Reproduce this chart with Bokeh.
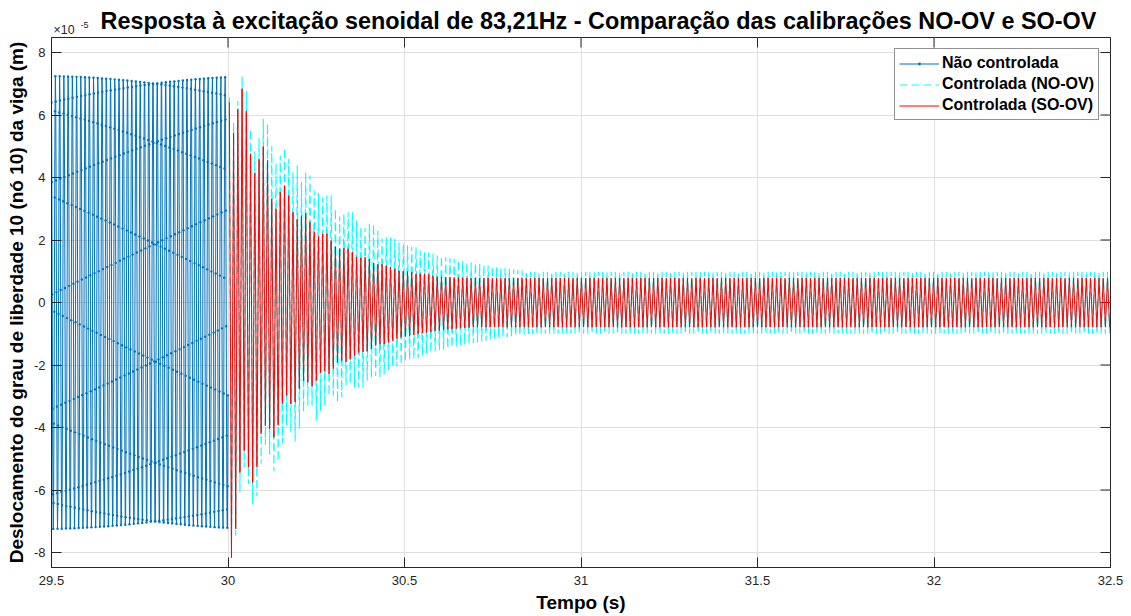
import numpy as np
from bokeh.plotting import figure
from bokeh.models import Range1d, FixedTicker, Label, Legend, LegendItem
from bokeh.embed import file_html
from bokeh.resources import INLINE

# ---------------------------------------------------------------------------
# Data (displacements in units of 1e-5 m)
# ---------------------------------------------------------------------------
freq_hz = 83.21            # excitation frequency
fs_hz = 1000.0             # sampling rate of the simulation output
t_start, t_end = 29.5, 32.5
y_min, y_max = -8.48, 8.48
t_control_on = 30.0

# uncontrolled steady-state response
uncontrolled_amp = 7.25
uncontrolled_phase_deg = 227.8

# time of the first peak after the controller is switched on
ctrl_first_peak_t = 30.0038

# per-cycle peaks / troughs of the controlled responses, then steady state
so_ov_upper = [6.41, 5.42, 6.18, 6.84, 6.12, 4.76, 4.14, 4.58, 4.99, 4.55,
               3.32, 3.00, 3.53, 3.74, 3.42, 2.89, 2.66, 2.78, 2.85, 2.57,
               2.27, 2.12, 2.19, 2.20, 1.98, 1.79, 1.72, 1.75, 1.72, 1.61,
               1.45, 1.43, 1.45, 1.39, 1.26, 1.22, 1.22, 1.18, 1.13, 1.08,
               1.02, 1.00, 0.99, 0.97, 0.92, 0.92, 0.92, 0.90, 0.86, 0.83,
               0.82, 0.81, 0.81, 0.80, 0.80, 0.79]
so_ov_lower = [-8.17, -7.24, -5.44, -4.74, -5.27, -5.76, -5.27, -4.20, -3.94,
               -4.04, -4.31, -3.93, -3.24, -2.98, -3.24, -3.19, -2.76, -2.50,
               -2.55, -2.68, -2.50, -2.25, -2.20, -2.28, -2.12, -1.92, -1.86,
               -1.90, -1.82, -1.70, -1.60, -1.58, -1.56, -1.48, -1.38, -1.34,
               -1.33, -1.28, -1.22, -1.16, -1.11, -1.09, -1.07, -1.04, -1.00,
               -0.98, -0.96, -0.94, -0.92, -0.90, -0.88, -0.86, -0.85, -0.83,
               -0.82, -0.81, -0.80]
so_ov_steady = (0.78, -0.79)

no_ov_upper = [6.56, 5.77, 6.45, 7.23, 6.77, 5.55, 4.84, 5.26, 5.88, 5.72,
               5.00, 4.45, 4.70, 4.95, 4.60, 4.17, 4.38, 3.85, 4.17, 4.06,
               3.58, 3.50, 3.35, 3.42, 3.42, 3.00, 2.75, 2.84, 2.89, 2.89,
               2.62, 2.41, 2.39, 2.52, 2.50, 2.30, 2.05, 2.09, 2.09, 2.04,
               1.93, 1.88, 1.82, 1.79, 1.77, 1.66, 1.61, 1.61, 1.56, 1.50,
               1.48, 1.45, 1.42, 1.40, 1.36, 1.33, 1.30, 1.28, 1.26, 1.24,
               1.20, 1.18, 1.16, 1.14, 1.13, 1.10, 1.08, 1.06, 1.04, 1.02,
               1.00]
no_ov_lower = [-7.80, -7.46, -6.07, -5.27, -5.80, -6.46, -6.20, -5.16, -4.55,
               -4.87, -5.40, -5.08, -4.50, -3.94, -4.15, -4.45, -4.04, -3.50,
               -3.30, -3.30, -3.78, -3.46, -3.30, -2.98, -2.98, -3.19, -3.03,
               -2.65, -2.60, -2.71, -2.71, -2.71, -2.50, -2.40, -2.35, -2.40,
               -2.30, -2.15, -2.05, -2.05, -2.00, -1.90, -1.82, -1.80, -1.78,
               -1.70, -1.62, -1.60, -1.57, -1.52, -1.50, -1.47, -1.44, -1.41,
               -1.38, -1.35, -1.32, -1.30, -1.28, -1.25, -1.22, -1.20, -1.18,
               -1.15, -1.13, -1.11, -1.09, -1.07, -1.05, -1.03, -1.01]
no_ov_steady = (0.98, -1.00)

x_ticks = [29.5, 30.0, 30.5, 31.0, 31.5, 32.0, 32.5]
x_tick_labels = ["29.5", "30", "30.5", "31", "31.5", "32", "32.5"]
y_ticks = [-8, -6, -4, -2, 0, 2, 4, 6, 8]
y_tick_labels = ["-8", "-6", "-4", "-2", "0", "2", "4", "6", "8"]

series_labels = ["Não controlada", "Controlada (NO-OV)", "Controlada (SO-OV)"]
series_colors = ["#0072BD", "#00FFFF", "#FF0000"]

title_text = ("Resposta à excitação senoidal de 83,21Hz - "
              "Comparação das calibrações NO-OV e SO-OV")
x_label = "Tempo (s)"
y_label = "Deslocamento do grau de liberdade 10 (nó 10) da viga (m)"
exp_base, exp_power = "×10", "-5"

# ---------------------------------------------------------------------------
# Build the traces
# ---------------------------------------------------------------------------
n_unc = int(round((t_control_on - t_start) * fs_hz)) + 1
t_unc = t_start + np.arange(n_unc) / fs_hz
y_unc = uncontrolled_amp * np.sin(2 * np.pi * freq_hz * t_unc
                                  + np.deg2rad(uncontrolled_phase_deg))

period = 1.0 / freq_hz
n_cycles = int((t_end - ctrl_first_peak_t - period / 2) / period) + 1


def cycle_trace(upper, lower, steady):
    """Peak/trough sequence of one controlled response."""
    up = list(upper) + [steady[0]] * (n_cycles - len(upper))
    lo = list(lower) + [steady[1]] * (n_cycles - len(lower))
    t, y = [], []
    for k in range(n_cycles):
        tk = ctrl_first_peak_t + k * period
        t += [tk, tk + period / 2]
        y += [up[k], lo[k]]
    return t, y


t_no, y_no = cycle_trace(no_ov_upper, no_ov_lower, no_ov_steady)
t_so, y_so = cycle_trace(so_ov_upper, so_ov_lower, so_ov_steady)

# ---------------------------------------------------------------------------
# Figure
# ---------------------------------------------------------------------------
AX = "#262626"
FONT = "Liberation Sans"
W, H = 1131, 616
BL, BR, BT, BB = 51, 21, 37, 49
TICK_PX = 10

p = figure(width=W, height=H, output_backend="svg", toolbar_location=None,
           x_range=Range1d(t_start, t_end), y_range=Range1d(y_min, y_max),
           min_border_left=BL, min_border_right=BR, min_border_top=BT,
           min_border_bottom=BB, background_fill_color="white",
           border_fill_color="white", title_location=None)
p.outline_line_color = AX
p.outline_line_width = 1

for ax in (p.xaxis[0], p.yaxis[0]):
    ax.axis_line_color = AX
    ax.major_tick_line_color = AX
    ax.major_tick_in = TICK_PX
    ax.major_tick_out = 0
    ax.minor_tick_line_color = None
    ax.major_label_text_font = FONT
    ax.major_label_text_font_size = "13px"
    ax.major_label_text_color = AX
    ax.axis_label_text_font = FONT
    ax.axis_label_text_font_size = "19px"
    ax.axis_label_text_font_style = "bold"
    ax.axis_label_text_color = "black"

p.xaxis[0].ticker = FixedTicker(ticks=x_ticks)
p.xaxis[0].major_label_overrides = dict(zip(x_ticks, x_tick_labels))
p.xaxis[0].major_label_standoff = 8
p.xaxis[0].axis_label = x_label
p.xaxis[0].axis_label_standoff = 4

p.yaxis[0].ticker = FixedTicker(ticks=y_ticks)
p.yaxis[0].major_label_overrides = dict(zip(y_ticks, y_tick_labels))
p.yaxis[0].major_label_standoff = 6
p.yaxis[0].axis_label = y_label
p.yaxis[0].axis_label_standoff = 4

p.xgrid.ticker = FixedTicker(ticks=x_ticks)
p.ygrid.ticker = FixedTicker(ticks=y_ticks)
p.grid.grid_line_color = "#dfdfdf"
p.grid.grid_line_width = 1

# mirrored inward ticks on the top and right edges of the box
frame_w, frame_h = W - BL - BR, H - BT - BB
dy_tick = TICK_PX * (y_max - y_min) / frame_h
dx_tick = TICK_PX * (t_end - t_start) / frame_w
p.segment(x0=x_ticks, x1=x_ticks, y0=[y_max] * len(x_ticks),
          y1=[y_max - dy_tick] * len(x_ticks), line_color=AX, line_width=1)
p.segment(x0=[t_end] * len(y_ticks), x1=[t_end - dx_tick] * len(y_ticks),
          y0=y_ticks, y1=y_ticks, line_color=AX, line_width=1)

# data
blue_line = p.line(t_unc, y_unc, color=series_colors[0], line_width=1)
blue_dots = p.scatter(t_unc, y_unc, marker="circle", size=2.4,
                      fill_color=series_colors[0], line_color=None)
cyan_line = p.line(t_no, y_no, color=series_colors[1], line_width=1.1,
                   line_dash="8 4")
red_line = p.line(t_so, y_so, color=series_colors[2], line_width=1)

legend = Legend(items=[
    LegendItem(label=series_labels[0], renderers=[blue_line, blue_dots]),
    LegendItem(label=series_labels[1], renderers=[cyan_line]),
    LegendItem(label=series_labels[2], renderers=[red_line]),
], location="top_right")
legend.margin = 11
legend.padding = 4
legend.spacing = 1
legend.glyph_width = 40
legend.glyph_height = 7
legend.label_height = 20
legend.label_standoff = 3
legend.label_text_font = FONT
legend.label_text_font_size = "16px"
legend.label_text_font_style = "bold"
legend.label_text_color = "black"
legend.border_line_color = AX
legend.border_line_width = 1
legend.background_fill_color = "white"
legend.background_fill_alpha = 1
p.add_layout(legend)

# title and y-axis exponent sit in the margins around the box
# (vertically centred text; offsets are measured up from the box top)
p.add_layout(Label(x=t_start, y=y_max, x_offset=49, y_offset=17,
                   text=title_text, text_font=FONT, text_font_size="23.4px",
                   text_font_style="bold", text_color="black",
                   text_baseline="middle"), "above")
p.add_layout(Label(x=t_start, y=y_max, x_offset=29, y_offset=13,
                   text=exp_power, text_font=FONT, text_font_size="9px",
                   text_color=AX, text_baseline="middle"), "above")
p.add_layout(Label(x=t_start, y=y_max, x_offset=2, y_offset=8, text=exp_base,
                   text_font=FONT, text_font_size="12.4px", text_color=AX,
                   text_baseline="middle"), "right")

open("out.html", "w").write(file_html(p, INLINE))
